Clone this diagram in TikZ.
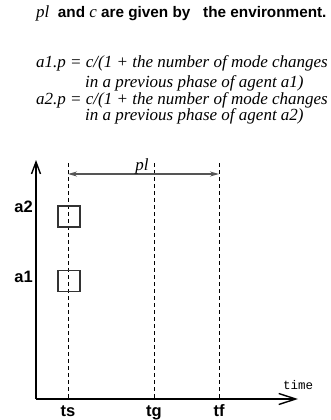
\documentclass[tikz,border=0pt]{standalone}
\usepackage{fontspec}
\setmainfont{Liberation Serif}
\setsansfont{Liberation Sans}
\setmonofont{Liberation Mono}
\usetikzlibrary{positioning, arrows.meta}
\definecolor{boxline}{HTML}{333333}
\definecolor{spanline}{HTML}{555555}

\begin{document}
\begin{tikzpicture}[x=1pt, y=-1pt,
  every node/.style={inner sep=0pt},
  head/.style={font=\fontsize{15.3}{18}\selectfont\sffamily\bfseries, anchor=base west},
  eq/.style={font=\fontsize{17}{20}\selectfont\itshape, anchor=base west},
  tick/.style={font=\fontsize{16.5}{20}\selectfont\sffamily\bfseries},
  vaxis/.style={line width=1.4pt, -{Straight Barb[length=12pt,width=9pt]}},
  haxis/.style={line width=1.4pt, -{Straight Barb[length=17pt,width=11pt]}},
  guide/.style={line width=1pt, dash pattern=on 4pt off 3pt},
  span/.style={draw=spanline, line width=1.2pt,
               {Stealth[length=9pt,width=5pt]}-{Stealth[length=9pt,width=5pt]}},
  agentbox/.style={draw=boxline, line width=1.2pt, minimum width=22pt, minimum height=21pt}]

\useasboundingbox (0,0) rectangle (331,420);

\node[head] (title) at (36,18)
  {\textnormal{\fontsize{17}{20}\selectfont\itshape pl}\ \ and
   \textnormal{\fontsize{17}{20}\selectfont\itshape c} are given by\ \ \ the environment.};

\node[eq] (eqa1) at (36,67)  {a1.p = c/(1 + the number of mode changes};
\node[eq] (eqa1b) at (85,87) {in a previous phase of agent a1)};
\node[eq] (eqa2) at (36,104) {a2.p = c/(1 + the number of mode changes};
\node[eq] (eqa2b) at (85,120) {in a previous phase of agent a2)};

\coordinate (O) at (36,399);
\coordinate (ytop) at (36,160);
\coordinate (xend) at (298,399);
\draw[vaxis] (O) -- (ytop);
\draw[haxis] (O) -- (xend);

\foreach \nm/\x in {ts/68, tg/154, tf/219} {
  \coordinate (\nm top) at (\x,163);
  \coordinate (\nm) at (\x,399);
  \draw[guide] (\nm top) -- (\nm);
  \node[tick, anchor=base] (\nm lbl) at (\x,416) {\nm};
}

\coordinate (plL) at (68,174);
\coordinate (plR) at (219,174);
\draw[span] (plL) -- (plR);
\node[eq, anchor=base] (pl) at (142,170) {pl};

\node[agentbox] (a2box) at (69,216.5) {};
\node[agentbox] (a1box) at (69,281) {};
\node[tick, anchor=east] (a2) at (33,207) {a2};
\node[tick, anchor=east] (a1) at (33,277) {a1};

\node[font=\fontsize{12.5}{14}\selectfont\ttfamily, anchor=base west] (time) at (283,389) {time};
\end{tikzpicture}
\end{document}
